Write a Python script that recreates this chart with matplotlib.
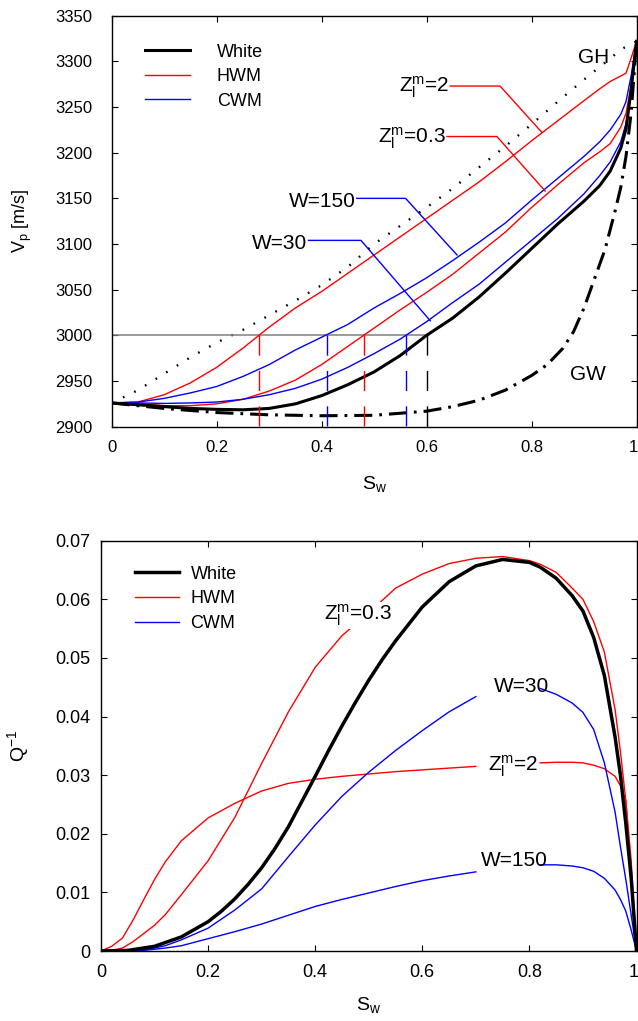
import numpy as np
import matplotlib
matplotlib.use('Agg')
import matplotlib.pyplot as plt
import matplotlib.transforms as mtransforms
from matplotlib.lines import Line2D

plt.rcParams['font.family'] = ['Liberation Sans', 'DejaVu Sans']
plt.rcParams['mathtext.default'] = 'regular'
plt.rcParams['lines.scale_dashes'] = False

# ---------------- DATA ----------------
# Top panel: P-wave velocity vs water saturation
sw_v = [0, 0.05, 0.1, 0.15, 0.2, 0.25, 0.3, 0.35, 0.4, 0.45, 0.5, 0.55, 0.6,
        0.65, 0.7, 0.75, 0.8, 0.85, 0.9, 0.93, 0.95, 0.97, 0.98, 0.99, 1.0]
vp_white = [2926, 2924, 2922, 2920, 2919, 2918.5, 2920, 2925, 2934, 2946, 2960, 2978, 3000,
            3019, 3042, 3068, 3095, 3122, 3147, 3164, 3180, 3205, 3226, 3270, 3322]
vp_hwm_z2 = [2926, 2927, 2935, 2948, 2965, 2986, 3009, 3030, 3048, 3068, 3088, 3108, 3128,
             3148, 3168, 3190, 3213, 3235, 3257, 3270, 3278, 3284, 3287, 3304, 3322]
vp_hwm_z03 = [2926, 2925, 2923, 2923, 2925, 2930, 2939, 2951, 2968, 2988, 3008, 3028, 3047,
              3067, 3090, 3113, 3140, 3165, 3189, 3201, 3210, 3228, 3243, 3275, 3322]
vp_cwm_w150 = [2926, 2927, 2931, 2937, 2944, 2955, 2968, 2984, 2998, 3012, 3030, 3046, 3063,
               3082, 3102, 3123, 3148, 3172, 3196, 3212, 3225, 3242, 3256, 3285, 3322]
vp_cwm_w30 = [2926, 2926, 2925.5, 2926, 2927, 2930, 2935, 2942, 2952, 2965, 2980, 2996, 3015,
              3036, 3056, 3080, 3104, 3128, 3155, 3175, 3190, 3212, 3232, 3265, 3322]
vp_gh = [2926, 2940, 2958, 2976, 2992, 3006, 3022, 3038, 3055, 3075, 3100, 3120, 3140,
         3161, 3184, 3207, 3231, 3256, 3280, 3294, 3303, 3313, 3316, 3319, 3322]
sw_gw = [0, 0.1, 0.2, 0.3, 0.4, 0.5, 0.6, 0.65, 0.7, 0.75, 0.8, 0.83, 0.86, 0.88,
         0.9, 0.92, 0.94, 0.96, 0.97, 0.98, 0.99, 1.0]
vp_gw = [2926, 2920, 2915.5, 2913, 2912, 2912.5, 2917, 2922, 2929, 2940, 2956, 2968, 2986, 3004,
         3030, 3062, 3094, 3138, 3162, 3196, 3245, 3322]
vp_ref = 3000
sw_at_ref = [0.28, 0.41, 0.48, 0.56, 0.60]
ref_colors = ['red', 'blue', 'red', 'blue', 'black']

# Bottom panel: attenuation vs water saturation
sw_q = [0, 0.02, 0.04, 0.06, 0.08, 0.1, 0.12, 0.15, 0.2, 0.25, 0.3, 0.35, 0.4, 0.45, 0.5,
        0.55, 0.6, 0.65, 0.7, 0.75, 0.8, 0.82, 0.85, 0.88, 0.9, 0.92, 0.94, 0.96, 0.97,
        0.98, 0.99, 1.0]
q_hwm_z03 = [0, 0.0001, 0.0005, 0.0016, 0.003, 0.0044, 0.0062, 0.0096, 0.0154, 0.0228, 0.032,
             0.0408, 0.0484, 0.0538, 0.0577, 0.0619, 0.0643, 0.0661, 0.067, 0.0673, 0.0666,
             0.066, 0.0646, 0.0619, 0.06, 0.0562, 0.051, 0.0412, 0.034, 0.0257, 0.0155, 0]
q_hwm_z2 = [0, 0.0008, 0.0022, 0.0053, 0.0088, 0.0122, 0.0152, 0.0188, 0.0227, 0.0252, 0.0273,
            0.0286, 0.0293, 0.0298, 0.0302, 0.0306, 0.0309, 0.0312, 0.0315, 0.0318, 0.032,
            0.0321, 0.0322, 0.0322, 0.0321, 0.0317, 0.0311, 0.0298, 0.0282, 0.0257, 0.0129, 0]
q_cwm_w30 = [0, 0, 0.00005, 0.0001, 0.0002, 0.0005, 0.0009, 0.0019, 0.0039, 0.007, 0.0106,
             0.0161, 0.0215, 0.0264, 0.0305, 0.0342, 0.0376, 0.0408, 0.0434, 0.0448, 0.0451,
             0.0448, 0.0438, 0.0423, 0.0407, 0.0378, 0.0321, 0.0237, 0.0178, 0.0122, 0.0062, 0]
q_cwm_w150 = [0, 0, 0.00002, 0.00005, 0.0001, 0.0003, 0.0005, 0.0009, 0.0021, 0.0033, 0.0046,
              0.0061, 0.0076, 0.0088, 0.0099, 0.011, 0.012, 0.0128, 0.0135, 0.0141, 0.0146,
              0.0147, 0.0147, 0.0145, 0.0142, 0.0136, 0.0124, 0.0104, 0.0088, 0.0068, 0.0036, 0]
sw_q_white = [0, 0.05, 0.1, 0.15, 0.2, 0.225, 0.25, 0.275, 0.3, 0.325, 0.35, 0.375, 0.4,
              0.425, 0.45, 0.475, 0.5, 0.525, 0.55, 0.6, 0.65, 0.7, 0.75, 0.8, 0.82, 0.85,
              0.88, 0.9, 0.92, 0.94, 0.96, 0.97, 0.98, 0.99, 1.0]
q_white = [0, 0.0001, 0.0008, 0.0024, 0.005, 0.0068, 0.0089, 0.0114, 0.0142, 0.0175, 0.0212,
           0.0255, 0.0298, 0.0342, 0.0384, 0.0424, 0.0462, 0.0497, 0.0529, 0.0587, 0.063,
           0.0657, 0.0668, 0.0663, 0.0655, 0.0636, 0.0606, 0.058, 0.0535, 0.047, 0.0365,
           0.03, 0.0218, 0.0125, 0]

legend_labels = ['White', 'HWM', 'CWM']
vp_ticks = [2900, 2950, 3000, 3050, 3100, 3150, 3200, 3250, 3300, 3350]
q_ticks = [0, 0.01, 0.02, 0.03, 0.04, 0.05, 0.06, 0.07]
q_ticklabels = ['0', '0.01', '0.02', '0.03', '0.04', '0.05', '0.06', '0.07']
sw_ticks = [0, 0.2, 0.4, 0.6, 0.8, 1.0]
sw_ticklabels = ['0', '0.2', '0.4', '0.6', '0.8', '1']

# ---------------- FIGURE ----------------
W, H = 638, 1021
fig = plt.figure(figsize=(W / 100, H / 100), dpi=100)
ax1 = fig.add_axes([111.7 / W, 1 - 426.7 / H, (636.5 - 111.7) / W, (426.7 - 15.7) / H])
ax2 = fig.add_axes([101 / W, 1 - 951 / H, (636.5 - 101) / W, (951 - 540.7) / H])

LW_THICK = 2.2
LW_THIN = 1.0
ANN_FS = 15


def style(ax, fs, xpad, ypad):
    ax.tick_params(direction='in', top=True, right=True, length=4.0, width=0.8,
                   labelsize=fs)
    ax.tick_params(axis='x', pad=xpad)
    ax.tick_params(axis='y', pad=ypad)
    for s in ax.spines.values():
        s.set_linewidth(1.0)


def nudge_last_xlabel(ax):
    # keep the right-most tick label ("1") inside the figure edge
    fig.canvas.draw()
    lab = ax.get_xticklabels()[-1]
    lab.set_transform(lab.get_transform() +
                      mtransforms.ScaledTranslation(-3 / 100, 0, fig.dpi_scale_trans))


# ---- top panel ----
ax1.plot(sw_v, vp_gh, color='black', lw=1.7, linestyle=(0, (1.2, 7.8)))
ax1.plot(sw_gw, vp_gw, color='black', lw=LW_THICK, dashes=(13, 5, 2, 5))
ax1.plot([0, sw_at_ref[-1]], [vp_ref, vp_ref], color='#808080', lw=1.1)
ax1.plot(sw_v, vp_hwm_z2, color='red', lw=LW_THIN)
ax1.plot(sw_v, vp_hwm_z03, color='red', lw=LW_THIN)
ax1.plot(sw_v, vp_cwm_w150, color='blue', lw=LW_THIN)
ax1.plot(sw_v, vp_cwm_w30, color='blue', lw=LW_THIN)
ax1.plot(sw_v, vp_white, color='black', lw=LW_THICK)
for s, c in zip(sw_at_ref, ref_colors):
    ax1.plot([s, s], [vp_ref, vp_ticks[0]], color=c, lw=LW_THIN, dashes=(14.5, 11))

# leader lines + labels
leaders = [
    ('Z$_l^m$=2', 'red', [0.645, 0.74, 0.82], [3273, 3273, 3222], 3266),
    ('Z$_l^m$=0.3', 'red', [0.639, 0.734, 0.826], [3217.7, 3217.7, 3158], 3210.5),
    ('W=150', 'blue', [0.467, 0.56, 0.658], [3150, 3150, 3088], 3141),
    ('W=30', 'blue', [0.375, 0.475, 0.607], [3104, 3104, 3016], 3095),
]
for txt, c, xs, ys, yb in leaders:
    ax1.plot(xs, ys, color=c, lw=LW_THIN)
    ax1.text(xs[0] - 0.002, yb, txt, fontsize=ANN_FS, ha='right', va='baseline')
ax1.text(0.889, 3298, 'GH', fontsize=ANN_FS, ha='left', va='baseline')
ax1.text(0.874, 2951, 'GW', fontsize=ANN_FS, ha='left', va='baseline')

ax1.set_xlim(0, 1)
ax1.set_ylim(vp_ticks[0], vp_ticks[-1])
ax1.set_xticks(sw_ticks)
ax1.set_xticklabels(sw_ticklabels)
ax1.set_yticks(vp_ticks)
style(ax1, 12, 9.5, 14.0)
ax1.set_xlabel('S$_w$', fontsize=14)
ax1.xaxis.set_label_coords(0.5, -47 / 411)
ax1.set_ylabel('V$_p$ [m/s]', fontsize=13)
ax1.yaxis.set_label_coords(-(111.7 - 34) / 524.8, 0.5)

h_top = [Line2D([], [], color='black', lw=LW_THICK),
         Line2D([], [], color='red', lw=LW_THIN),
         Line2D([], [], color='blue', lw=LW_THIN)]
ax1.legend(h_top, legend_labels, loc='upper left', bbox_to_anchor=(0.063, 0.932),
           frameon=False, fontsize=13, handlelength=2.5, handletextpad=1.5,
           labelspacing=0.42, borderpad=0, borderaxespad=0)

# ---- bottom panel ----
sw_q_a = np.array(sw_q)
gap = (sw_q_a > 0.70) & (sw_q_a < 0.82)


def gapped(vals):
    v = np.array(vals, dtype=float)
    v[gap] = np.nan
    return v


ax2.plot(sw_q, q_hwm_z03, color='red', lw=LW_THIN)
ax2.plot(sw_q, gapped(q_hwm_z2), color='red', lw=LW_THIN)
ax2.plot(sw_q, gapped(q_cwm_w30), color='blue', lw=LW_THIN)
ax2.plot(sw_q, gapped(q_cwm_w150), color='blue', lw=LW_THIN)
ax2.plot(sw_q_white, q_white, color='black', lw=2.5)

ax2.text(0.417, 0.0564, 'Z$_l^m$=0.3', fontsize=ANN_FS, ha='left', va='baseline',
         bbox=dict(facecolor='white', edgecolor='none', pad=0.5))
ax2.text(0.723, 0.0306, 'Z$_l^m$=2', fontsize=ANN_FS, ha='left', va='baseline')
ax2.text(0.733, 0.0442, 'W=30', fontsize=ANN_FS, ha='left', va='baseline')
ax2.text(0.71, 0.0145, 'W=150', fontsize=ANN_FS, ha='left', va='baseline')

ax2.set_xlim(0, 1)
ax2.set_ylim(q_ticks[0], q_ticks[-1])
ax2.set_xticks(sw_ticks)
ax2.set_xticklabels(sw_ticklabels)
ax2.set_yticks(q_ticks)
ax2.set_yticklabels(q_ticklabels)
style(ax2, 13, 9.5, 7.5)
ax2.set_xlabel('S$_w$', fontsize=14)
ax2.xaxis.set_label_coords(0.5, -44 / 410.3)
ax2.set_ylabel('Q$^{-1}$', fontsize=14)
ax2.yaxis.set_label_coords(-(101 - 31) / 535.5, 0.5)

h_bot = [Line2D([], [], color='black', lw=2.5),
         Line2D([], [], color='red', lw=LW_THIN),
         Line2D([], [], color='blue', lw=LW_THIN)]
ax2.legend(h_bot, legend_labels, loc='upper left', bbox_to_anchor=(0.0635, 0.939),
           frameon=False, fontsize=13, handlelength=2.45, handletextpad=0.63,
           labelspacing=0.42, borderpad=0, borderaxespad=0)

nudge_last_xlabel(ax1)
nudge_last_xlabel(ax2)

fig.savefig('out.png', dpi=100)
